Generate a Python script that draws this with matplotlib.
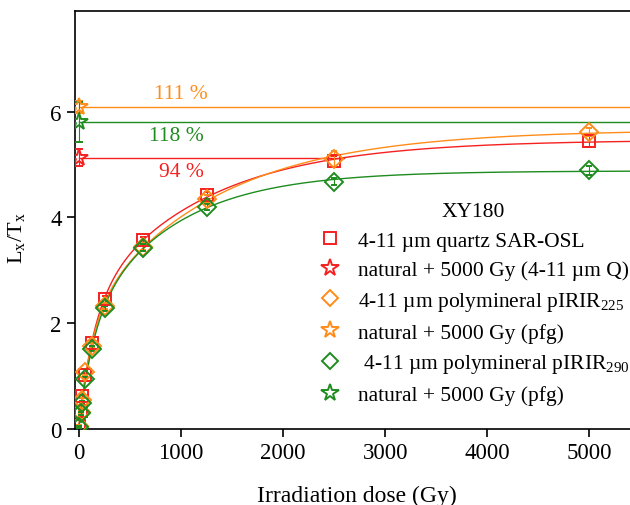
import matplotlib
matplotlib.use("Agg")
import matplotlib.pyplot as plt
from matplotlib.lines import Line2D
import numpy as np

plt.rcParams['font.family'] = ['Liberation Serif', 'DejaVu Serif']
plt.rcParams['mathtext.fontset'] = 'custom'
plt.rcParams['mathtext.rm'] = 'Liberation Serif'
plt.rcParams['mathtext.it'] = 'Liberation Serif:italic'

# regenerative doses (Gy) and sensitivity corrected signals
dose = [0, 15.6, 31.25, 62.5, 125, 250, 625, 1250, 2500, 5000]
quartz = [0.06, 0.35, 0.62, 1.02, 1.63, 2.45, 3.57, 4.42, 5.06, 5.44]
quartz_err = [0.02, 0.03, 0.03, 0.04, 0.05, 0.06, 0.06, 0.07, 0.1, 0.1]
pir225 = [0.06, 0.32, 0.55, 1.08, 1.58, 2.33, 3.45, 4.35, 5.1, 5.62]
pir225_err = [0.02, 0.03, 0.03, 0.05, 0.05, 0.06, 0.06, 0.08, 0.15, 0.08]
pir290 = [0.04, 0.3, 0.5, 0.95, 1.52, 2.28, 3.43, 4.2, 4.68, 4.89]
pir290_err = [0.02, 0.03, 0.03, 0.04, 0.05, 0.05, 0.06, 0.06, 0.07, 0.08]

# natural + 5000 Gy points
nat_vals = [5.13, 6.09, 5.80]
nat_errs = [0.16, 0.12, 0.38]
ratio_txt = ['94 %', '111 %', '118 %']
ratio_pos = [(1000, 4.87), (1000, 6.35), (950, 5.55)]

colors = ['#f52020', '#ff8c1a', '#1e8c1e']
labels = ['4-11 \u00b5m quartz SAR-OSL',
          'natural + 5000 Gy (4-11 \u00b5m Q)',
          '4-11 \u00b5m polymineral pIRIR$_{225}$',
          'natural + 5000 Gy (pfg)',
          ' 4-11 \u00b5m polymineral pIRIR$_{290}$',
          'natural + 5000 Gy (pfg)']


def fit_double_exp(d, y):
    # sum of two saturating exponentials, D0 values by grid search
    d = np.asarray(d, float)
    y = np.asarray(y, float)
    best = None
    for d1 in np.linspace(50, 1500, 146):
        for d2 in np.linspace(500, 6000, 111):
            if d2 <= d1:
                continue
            M = np.column_stack([1 - np.exp(-d / d1), 1 - np.exp(-d / d2), np.ones_like(d)])
            coef = np.linalg.lstsq(M, y, rcond=None)[0]
            if coef[0] < 0 or coef[1] < 0:
                continue
            r = np.sum((M @ coef - y) ** 2)
            if best is None or r < best[0]:
                best = (r, d1, d2, coef)
    return best[1:]


fig = plt.figure(figsize=(6.3, 5.06), dpi=100)
ax = fig.add_axes([0.119, 0.150, 0.881, 0.826])

xmax = 5400
xx = np.linspace(0, xmax, 800)
series = [(quartz, quartz_err, 's', 9), (pir225, pir225_err, 'D', 9), (pir290, pir290_err, 'D', 9)]
handles = []
for i, (vals, errs, mk, ms) in enumerate(series):
    c = colors[i]
    d1, d2, (a1, a2, b) = fit_double_exp(dose, vals)
    yy = a1 * (1 - np.exp(-xx / d1)) + a2 * (1 - np.exp(-xx / d2)) + b
    ax.plot(xx, yy, color=c, lw=1.0, zorder=2)
    # horizontal line at natural + 5000 Gy level up to where the curve reaches it
    lvl = nat_vals[i]
    above = np.where(yy >= lvl)[0]
    xend = xx[above[0]] if len(above) else xmax
    ax.plot([0, xend], [lvl, lvl], color=c, lw=1.0, zorder=2)
    ax.errorbar(dose, vals, yerr=errs, fmt=mk, ms=ms, mfc='none', mec=c,
                mew=1.4, ecolor=c, elinewidth=0.8, capsize=2.5, zorder=3)
    ax.errorbar([0], [lvl], yerr=[nat_errs[i]], fmt='*', ms=13, mfc='none',
                mec=c, mew=1.4, ecolor=c, elinewidth=0.8, capsize=3, zorder=4)
    handles.append(Line2D([], [], ls='none', marker=mk, ms=ms - 1, mfc='none', mec=c, mew=1.4))
    handles.append(Line2D([], [], ls='none', marker='*', ms=13, mfc='none', mec=c, mew=1.4))
    ax.text(ratio_pos[i][0], ratio_pos[i][1], ratio_txt[i], color=c,
            fontsize=15.5, ha='center', va='center')

ax.set_xlim(-40, xmax)
ax.set_ylim(0, 7.9)
ax.set_xticks([0, 1000, 2000, 3000, 4000, 5000])
ax.set_yticks([0, 2, 4, 6])
ax.spines['right'].set_visible(False)
for s in ['left', 'bottom', 'top']:
    ax.spines[s].set_linewidth(1.2)
ax.tick_params(direction='out', length=6, width=1.2, labelsize=16.5)
ax.set_xlabel('Irradiation dose (Gy)', fontsize=17)
ax.set_ylabel('L$_\\mathrm{x}$/T$_\\mathrm{x}$', fontsize=16)
ax.xaxis.set_label_coords(0.508, -0.134)
ax.yaxis.set_label_coords(-0.086, 0.46)

leg = ax.legend(handles, labels, title='XY180', loc='upper left',
                bbox_to_anchor=(0.409, 0.58), frameon=False, fontsize=15.5,
                title_fontsize=15.5, handletextpad=0.7, labelspacing=0.45,
                handlelength=1.2, borderpad=0.2)

fig.savefig('out.png', dpi=100)
